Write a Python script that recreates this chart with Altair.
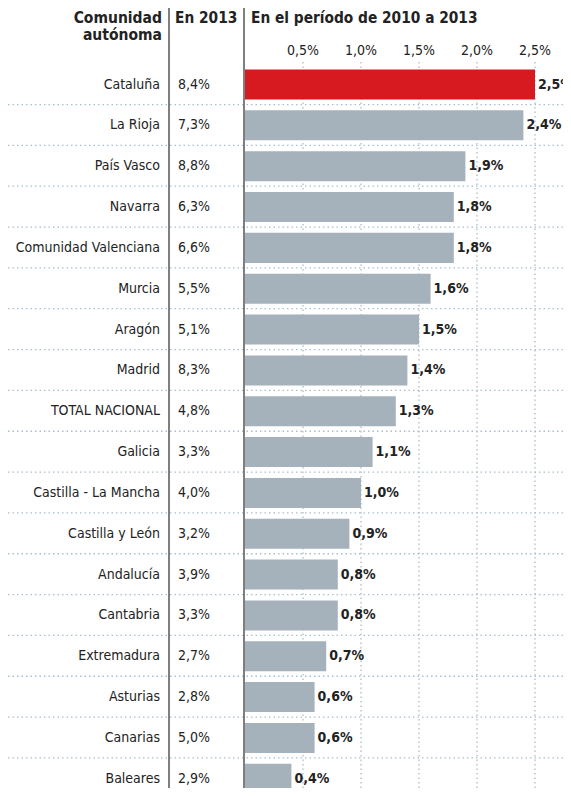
import altair as alt
import pandas as pd

regions = ["Cataluña", "La Rioja", "País Vasco", "Navarra", "Comunidad Valenciana",
           "Murcia", "Aragón", "Madrid", "TOTAL NACIONAL", "Galicia",
           "Castilla - La Mancha", "Castilla y León", "Andalucía", "Cantabria",
           "Extremadura", "Asturias", "Canarias", "Baleares"]
en_2013 = [8.4, 7.3, 8.8, 6.3, 6.6, 5.5, 5.1, 8.3, 4.8, 3.3, 4.0, 3.2, 3.9, 3.3,
           2.7, 2.8, 5.0, 2.9]
periodo = [2.5, 2.4, 1.9, 1.8, 1.8, 1.6, 1.5, 1.4, 1.3, 1.1, 1.0, 0.9, 0.8, 0.8,
           0.7, 0.6, 0.6, 0.4]
highlight = "Cataluña"
ticks = [0.5, 1.0, 1.5, 2.0, 2.5]

FONT = "DejaVu Sans Condensed"
RED = "#d71920"
GRAY = "#a5b2bb"
DOT = "#a9bfcc"
TXT = "#222222"

def pct(v):
    return f"{v:.1f}%".replace(".", ",")

df = pd.DataFrame({
    "region": regions,
    "en2013": [pct(v) for v in en_2013],
    "periodo": periodo,
    "label": [pct(v) for v in periodo],
    "hl": ["si" if r == highlight else "no" for r in regions],
})
sep_df = df.iloc[:-1]
tick_df = pd.DataFrame({"t": ticks, "tl": [pct(v) for v in ticks]})

W, H = 555, 780
xs = alt.Scale(domain=[0, 2.7], range=[237, 237 + 116 * 2.7])
ys = alt.Scale(domain=regions, range=[56.1, 791.2], paddingInner=0.265, paddingOuter=0.1325)
Y = alt.Y("region:N", scale=ys, axis=None, sort=regions)

base = alt.Chart(df)

grid = alt.Chart(tick_df).mark_rule(color=DOT, strokeDash=[1.5, 3], strokeWidth=1.3).encode(
    x=alt.X("t:Q", scale=xs, axis=None), y=alt.value(54), y2=alt.value(H))
tick_text = alt.Chart(tick_df).mark_text(font=FONT, fontSize=14, color=TXT, baseline="middle").encode(
    x=alt.X("t:Q", scale=xs, axis=None), y=alt.value(43), text="tl:N")

seps = alt.Chart(sep_df).mark_rule(color=DOT, strokeDash=[1.5, 3], strokeWidth=1.3, yOffset=5).encode(
    y=alt.Y("region:N", scale=ys, axis=None, sort=regions, bandPosition=1),
    x=alt.value(0), x2=alt.value(W))

bars = base.mark_bar().encode(
    x=alt.X("periodo:Q", scale=xs, axis=None),
    x2=alt.datum(0),
    y=Y,
    color=alt.Color("hl:N", scale=alt.Scale(domain=["si", "no"], range=[RED, GRAY]), legend=None),
)
vlabels = base.mark_text(font=FONT, fontSize=14, fontWeight="bold", color=TXT, align="left", dx=3).encode(
    x=alt.X("periodo:Q", scale=xs, axis=None), y=Y, text="label:N")

names = base.mark_text(font=FONT, fontSize=14, color=TXT, align="right").encode(
    x=alt.value(152), y=Y, text="region:N")
vals2013 = base.mark_text(font=FONT, fontSize=14, color=TXT, align="left").encode(
    x=alt.value(170), y=Y, text="en2013:N")

vlines = alt.Chart(pd.DataFrame({"xp": [161, 236]})).mark_rule(color="#555555", strokeWidth=1.5).encode(
    x=alt.X("xp:Q", scale=None), y=alt.value(0), y2=alt.value(H))

hdr = pd.DataFrame({
    "txt": ["Comunidad", "autónoma", "En 2013", "En el período de 2010 a 2013"],
    "xp": [154, 154, 167, 243],
    "yp": [10, 26.5, 10, 10],
    "al": ["right", "right", "left", "left"],
})
hdr_r = alt.Chart(hdr[hdr.al == "right"]).mark_text(font=FONT, fontSize=15.5, fontWeight="bold",
                                                   color=TXT, align="right", baseline="middle").encode(
    x=alt.X("xp:Q", scale=None), y=alt.Y("yp:Q", scale=None), text="txt:N")
hdr_l = alt.Chart(hdr[hdr.al == "left"]).mark_text(font=FONT, fontSize=15.3, fontWeight="bold",
                                                  color=TXT, align="left", baseline="middle").encode(
    x=alt.X("xp:Q", scale=None), y=alt.Y("yp:Q", scale=None), text="txt:N")

chart = alt.layer(grid, seps, bars, vlines, tick_text, vlabels, names, vals2013, hdr_r, hdr_l).properties(
    width=W, height=H, autosize=alt.AutoSizeParams(type="none"),
    padding={"left": 0, "top": 0, "right": 0, "bottom": 0},
).configure_view(stroke=None).resolve_scale(x="shared", y="shared")

chart.save("out.html", embed_options={"renderer": "svg", "actions": False})
